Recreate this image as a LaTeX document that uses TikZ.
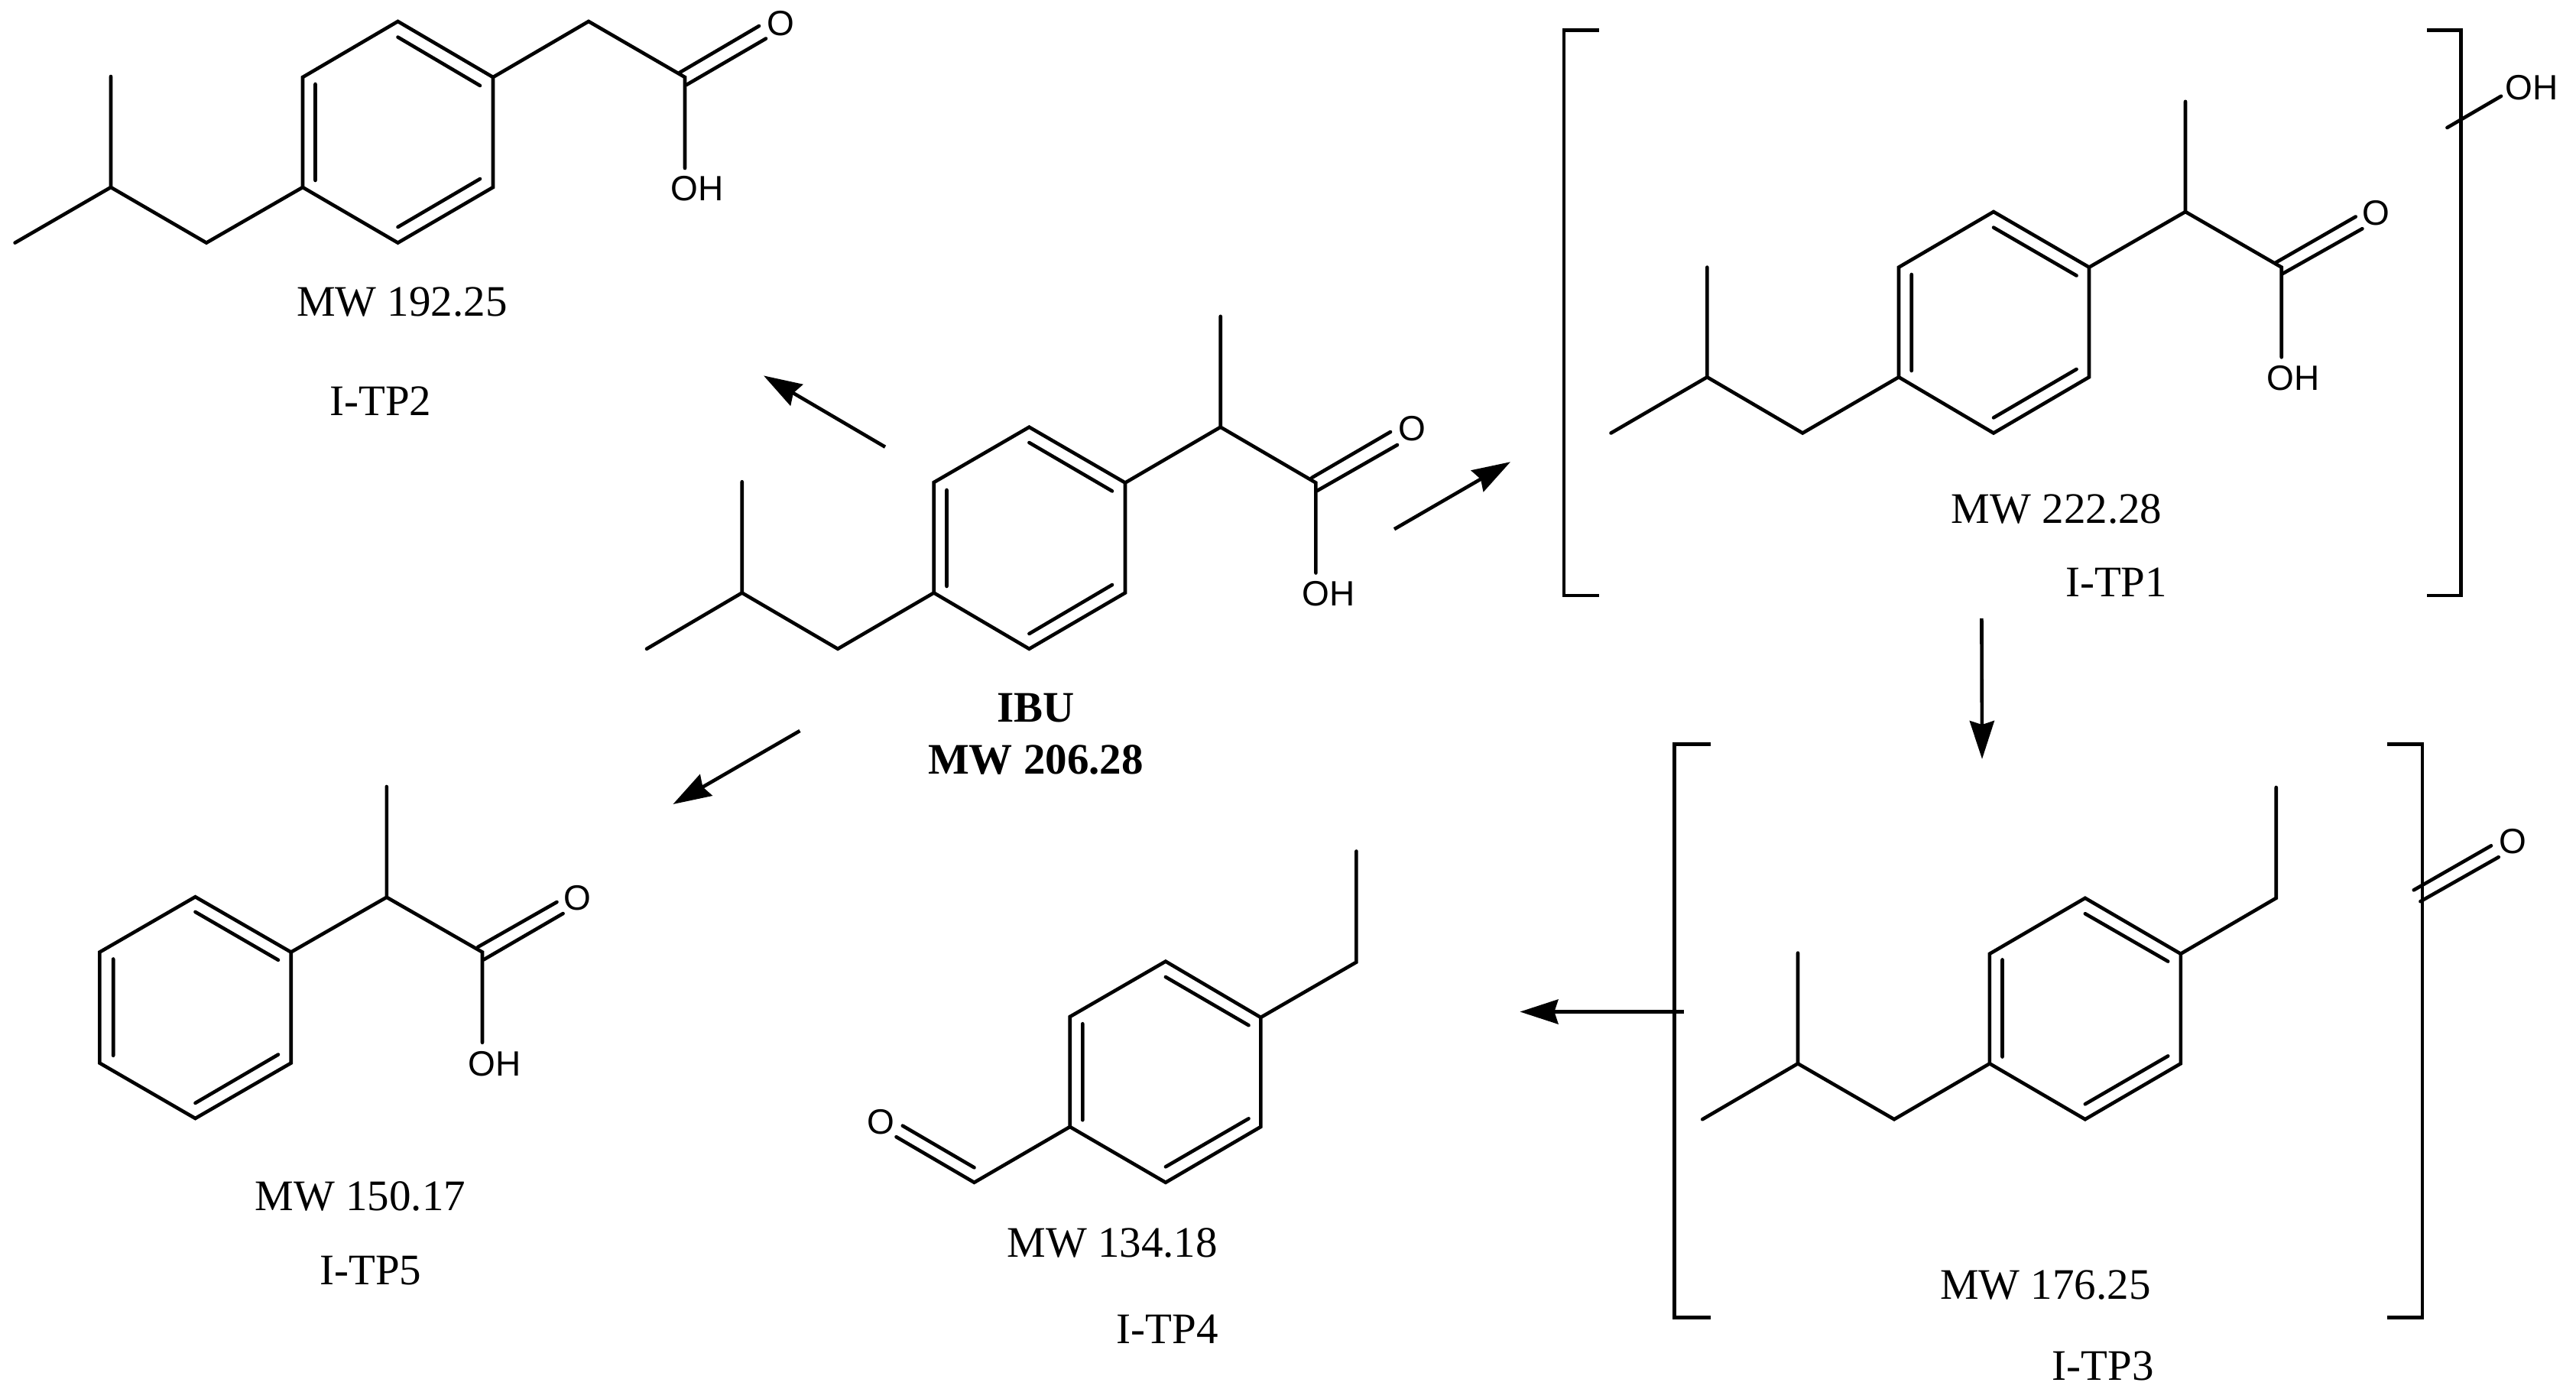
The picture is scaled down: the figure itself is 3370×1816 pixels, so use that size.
\documentclass[tikz,border=0pt]{standalone}
\usepackage{fontspec}
\setmainfont{Liberation Serif}
\setsansfont{Liberation Sans}
\usetikzlibrary{arrows.meta}
\newcommand\atoms[1]{\foreach \n/\px/\py in {#1} {\coordinate (\n) at (\px,\py);}}
\tikzset{
  bond/.style={line width=2.3pt,line cap=round,line join=miter,black},
  bracket/.style={line width=2.3pt,line cap=butt,line join=miter,black},
  rxn/.style={line width=2.3pt,line cap=butt,black,-{Stealth[length=25pt,width=16pt,inset=2.5pt]}},
  lab/.style={inner sep=0pt,outer sep=0pt,anchor=base,yshift=-9.5pt,font=\fontsize{28.5}{34}\selectfont},
  blab/.style={lab,font=\fontsize{28.5}{34}\selectfont\bfseries},
  hetero/.style={inner sep=0pt,outer sep=0pt,anchor=base,yshift=-8.25pt,font=\fontsize{23}{28}\selectfont\sffamily},
}
\begin{document}
\begin{tikzpicture}[x=0.5pt,y=-0.5pt]
\useasboundingbox (0,0) rectangle (3370,1816);
\fill[white] (0,0) rectangle (3370,1816);

% ---------- I-TP2 ----------
\atoms{a1/19.6/317.6,a2/145/245,a3/145/100,a4/270/317.6,a5/396/245,a6/396/101,a7/520.5/28,a8/645/101,a9/645/245,a10/520.5/317.6,a11/770/28,a12/896/101,a13/896/220,
a14/412.5/110,a15/412.5/236,a16/520.5/48.6,a17/628/112,a18/520.5/297,a19/628/234,a20/889/95,a21/993/34,a22/898/111,a23/1002/50.5}
\draw[bond] (a1)--(a2)--(a3) (a2)--(a4)--(a5)--(a6)--(a7)--(a8)--(a9)--(a10)--(a5) (a8)--(a11)--(a12)--(a13);
\draw[bond] (a14)--(a15) (a16)--(a17) (a18)--(a19) (a20)--(a21) (a22)--(a23);
\node[hetero] (tp2o) at (1021,30) {O};
\node[hetero] (tp2oh) at (912,246) {OH};
\node[lab] (tp2mw) at (526,394) {MW 192.25};
\node[lab] (tp2name) at (498,524.3) {I-TP2};

% ---------- IBU ----------
\atoms{b1/846/848.8,b2/970.7/775.5,b3/970.7/630.2,b4/1096/848.8,b5/1221.7/775.5,b6/1221.7/631,b7/1346.4/558.7,b8/1472/631.5,b9/1472/775.5,b10/1346.4/848.8,b11/1596.7/558.7,b12/1596.7/413.8,b13/1721.4/631.5,b14/1721.4/749.5,
b15/1238.5/641,b16/1238.5/767,b17/1346.4/579,b18/1455/642.4,b19/1346.4/829,b20/1455/765,b21/1716/625,b22/1819/565,b23/1723/642,b24/1828/582}
\draw[bond] (b1)--(b2)--(b3) (b2)--(b4)--(b5)--(b6)--(b7)--(b8)--(b9)--(b10)--(b5) (b8)--(b11)--(b12) (b11)--(b13)--(b14);
\draw[bond] (b15)--(b16) (b17)--(b18) (b19)--(b20) (b21)--(b22) (b23)--(b24);
\node[hetero] (ibuo) at (1847,560) {O};
\node[hetero] (ibuoh) at (1738,776) {OH};
\node[blab] (ibuname) at (1355,925) {IBU};
\node[blab] (ibumw) at (1355,993) {MW 206.28};

% ---------- I-TP1 ----------
\atoms{c1/2107.5/566.5,c2/2233.3/493.3,c3/2233.3/349.6,c4/2358.2/566.5,c5/2484/493.3,c6/2484/349.6,c7/2608/277,c8/2733/349.6,c9/2733/493.3,c10/2608/566.5,c11/2859/277,c12/2859/132.8,c13/2984.7/349.6,c14/2984.7/467.3,
c15/2500.7/359,c16/2500.7/485,c17/2608/297.6,c18/2716.5/360.5,c19/2608/546.4,c20/2716.5/483,c21/2976.8/343.7,c22/3081.7/283.5,c23/2986.5/357.8,c24/3090.4/299.2,c25/3201.4/167,c26/3272/125.8}
\draw[bond] (c1)--(c2)--(c3) (c2)--(c4)--(c5)--(c6)--(c7)--(c8)--(c9)--(c10)--(c5) (c8)--(c11)--(c12) (c11)--(c13)--(c14);
\draw[bond] (c15)--(c16) (c17)--(c18) (c19)--(c20) (c21)--(c22) (c23)--(c24) (c25)--(c26);
\draw[bracket] (2091.7,39.6) -| (2046,779) -- (2091.7,779);
\draw[bracket] (3175,39.6) -| (3219.7,779) -- (3175,779);
\node[hetero] (tp1o) at (3108,278) {O};
\node[hetero] (tp1oh) at (3000.4,494.4) {OH};
\node[hetero] (tp1oh2) at (3312.4,113.8) {OH};
\node[lab] (tp1mw) at (2690.7,665.7) {MW 222.28};
\node[lab] (tp1name) at (2768.5,761.6) {I-TP1};

% ---------- I-TP3 ----------
\atoms{d1/2227.2/1464.2,d2/2352/1391.3,d3/2352/1246.6,d4/2478/1464.2,d5/2602.9/1391.3,d6/2602.9/1247.7,d7/2727.8/1174.8,d8/2852.8/1247.7,d9/2852.8/1391.3,d10/2727.8/1464.2,d11/2977.7/1174.8,d12/2977.7/1030,
d15/2619.5/1255.4,d16/2619.5/1382.5,d17/2727.8/1195.2,d18/2836.2/1257.6,d19/2727.8/1444.3,d20/2836.2/1381.4,d21/3157.7/1164.3,d22/3259/1106.3,d23/3166.4/1179.2,d24/3268.7/1121.2}
\draw[bond] (d1)--(d2)--(d3) (d2)--(d4)--(d5)--(d6)--(d7)--(d8)--(d9)--(d10)--(d5) (d8)--(d11)--(d12);
\draw[bond] (d15)--(d16) (d17)--(d18) (d19)--(d20) (d21)--(d22) (d23)--(d24);
\draw[bracket] (2237.7,973.7) -| (2190.5,1723.2) -- (2237.7,1723.2);
\draw[bracket] (3122.8,973.7) -| (3169,1723.2) -- (3122.8,1723.2);
\node[hetero] (tp3o) at (3287,1100.2) {O};
\node[lab] (tp3mw) at (2675.8,1680.7) {MW 176.25};
\node[lab] (tp3name) at (2751.4,1786.7) {I-TP3};

% ---------- I-TP4 ----------
\atoms{e1/1774.4/1113.5,e2/1774.4/1258.6,e3/1649.3/1330.9,e4/1649.3/1474,e5/1524.9/1546.8,e6/1399.7/1474,e7/1399.7/1330,e8/1524.9/1257.6,e9/1274.5/1546.8,e10/1172.5/1487.2,e11/1180.8/1472.6,e12/1274.5/1527.3,
e13/1416.3/1339.2,e14/1416.3/1465.2,e15/1524.9/1278,e16/1633.5/1341.2,e17/1524.9/1526.3,e18/1633.5/1463.3}
\draw[bond] (e1)--(e2)--(e3)--(e4)--(e5)--(e6)--(e7)--(e8)--(e3) (e6)--(e9)--(e10);
\draw[bond] (e11)--(e12) (e13)--(e14) (e15)--(e16) (e17)--(e18);
\node[hetero] (tp4o) at (1152.6,1466.7) {O};
\node[lab] (tp4mw) at (1455.2,1625.5) {MW 134.18};
\node[lab] (tp4name) at (1527.4,1738.8) {I-TP4};

% ---------- I-TP5 ----------
\atoms{f1/505.8/1029,f2/505.8/1173.7,f3/380.7/1245.5,f4/380.7/1390.6,f5/255.5/1463,f6/130.4/1390.6,f7/130.4/1245.5,f8/255.5/1173.2,f9/631/1245.5,f10/631/1363.8,
f11/148.2/1254.5,f12/148.2/1380.8,f13/255.5/1192.9,f14/364/1255.8,f15/255.5/1442.9,f16/364/1379.5,f17/625.2/1238.8,f18/728.5/1180,f19/632.7/1255.4,f20/736.6/1195}
\draw[bond] (f1)--(f2)--(f3)--(f4)--(f5)--(f6)--(f7)--(f8)--(f3) (f2)--(f9)--(f10);
\draw[bond] (f11)--(f12) (f13)--(f14) (f15)--(f16) (f17)--(f18) (f19)--(f20);
\node[hetero] (tp5o) at (755,1174) {O};
\node[hetero] (tp5oh) at (647,1390.6) {OH};
\node[lab] (tp5mw) at (471.4,1564) {MW 150.17};
\node[lab] (tp5name) at (484.9,1661) {I-TP5};

% ---------- reaction arrows ----------
\atoms{r1a/1158/584.7,r1b/999/491.4,r2a/1824/692.2,r2b/1976/604.2,r3a/1046.4/956,r3b/880.4/1052,r4a/2592.4/808.8,r4b/2593/993,r5a/2202.7/1323.5,r5b/1988.4/1323.5}
\draw[rxn] (r1a)--(r1b);
\draw[rxn] (r2a)--(r2b);
\draw[rxn] (r3a)--(r3b);
\draw[rxn] (r4a)--(r4b);
\draw[rxn] (r5a)--(r5b);
\end{tikzpicture}
\end{document}
